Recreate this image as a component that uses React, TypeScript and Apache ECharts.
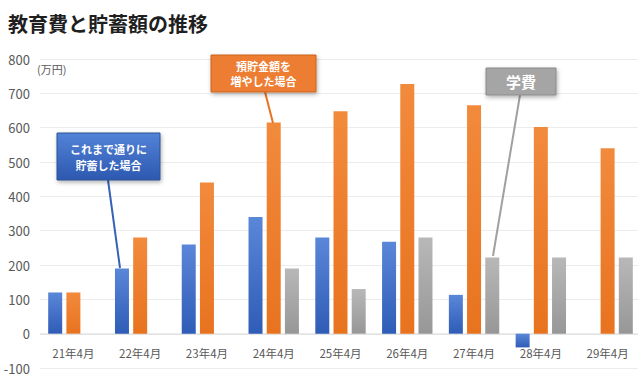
import React, { useEffect, useRef } from "react";
import * as echarts from "echarts";

const categories = ["21年4月", "22年4月", "23年4月", "24年4月", "25年4月", "26年4月", "27年4月", "28年4月", "29年4月"];
const savingsAsUsual = [120, 190, 260, 340, 280, 268, 113, -40, null];
const savingsIncreased = [120, 280, 440, 615, 648, 727, 665, 602, 540];
const tuition = [null, null, null, 190, 130, 280, 222, 222, 222];
const yMin = -100;
const yMax = 800;
const yStep = 100;

const FONT = "'Noto Sans CJK JP', 'Noto Sans', sans-serif";

function grad(top: string, bottom: string) {
  return new echarts.graphic.LinearGradient(0, 0, 0, 1, [
    { offset: 0, color: top },
    { offset: 1, color: bottom },
  ]);
}

function callout(
  x: number, y: number, w: number, h: number,
  fill: any, stroke: string, text: string, fontSize: number, lineHeight: number,
  line: [number, number, number, number], lineColor: string
) {
  return [
    {
      type: "line",
      z: 10,
      shape: { x1: line[0], y1: line[1], x2: line[2], y2: line[3] },
      style: { stroke: lineColor, lineWidth: 2 },
    },
    {
      type: "rect",
      z: 11,
      shape: { x, y, width: w, height: h },
      style: {
        fill,
        stroke,
        lineWidth: 1,
        shadowBlur: 4,
        shadowOffsetX: 1,
        shadowOffsetY: 2,
        shadowColor: "rgba(0,0,0,0.3)",
      },
    },
    {
      type: "text",
      z: 12,
      x: x + w / 2,
      y: y + h / 2,
      style: {
        text,
        fill: "#ffffff",
        font: `bold ${fontSize}px ${FONT}`,
        align: "center",
        verticalAlign: "middle",
        lineHeight,
      },
    },
  ];
}

export default function App() {
  const ref = useRef<HTMLDivElement>(null);
  useEffect(() => {
    if (!ref.current) return;
    const chart = echarts.init(ref.current, null, { renderer: "svg" });
    const gridTop = 59;
    const gridBottom = 11;
    const plotH = 379 - gridTop - gridBottom;
    const zeroOffset = -Math.round(((0 - yMin) / (yMax - yMin)) * plotH);
    chart.setOption({
      animation: false,
      backgroundColor: "#ffffff",
      textStyle: { fontFamily: FONT },
      grid: { left: 40, right: -3, top: gridTop, bottom: gridBottom, containLabel: false, outerBoundsMode: "none" },
      xAxis: {
        type: "category",
        data: categories,
        offset: zeroOffset,
        axisTick: { show: false },
        axisLine: { show: true, onZero: false, lineStyle: { color: "#e3e3e3" } },
        axisLabel: { color: "#595959", fontSize: 11.5, margin: 13, fontFamily: FONT },
        splitLine: { show: false },
      },
      yAxis: {
        type: "value",
        min: yMin,
        max: yMax,
        interval: yStep,
        axisLine: { show: false },
        axisTick: { show: false },
        axisLabel: { color: "#595959", fontSize: 13, margin: 10, fontFamily: FONT },
        splitLine: { lineStyle: { color: "#ececec", width: 1 } },
      },
      series: [
        {
          name: "これまで通りに貯蓄した場合",
          type: "bar",
          data: savingsAsUsual,
          barWidth: 14,
          barGap: "30%",
          itemStyle: { color: grad("#5a87d8", "#2f5cb6") },
        },
        {
          name: "預貯金額を増やした場合",
          type: "bar",
          data: savingsIncreased,
          barWidth: 14,
          barGap: "30%",
          itemStyle: { color: grad("#f28a3c", "#e8731f") },
        },
        {
          name: "学費",
          type: "bar",
          data: tuition,
          barWidth: 14,
          barGap: "30%",
          itemStyle: { color: grad("#b8b8b8", "#979797") },
        },
      ],
      graphic: [
        {
          type: "text",
          x: 8,
          y: 23,
          style: {
            text: "教育費と貯蓄額の推移",
            fill: "#1f1f1f",
            font: `bold 20px ${FONT}`,
            verticalAlign: "middle",
          },
        },
        {
          type: "text",
          x: 37,
          y: 69,
          style: {
            text: "(万円)",
            fill: "#595959",
            font: `11px ${FONT}`,
            verticalAlign: "middle",
          },
        },
        ...callout(57, 133, 103, 47, grad("#5283d8", "#2d58b0"), "#2f528f",
          "これまで通りに\n貯蓄した場合", 11, 16, [108, 180, 120, 268], "#3561b8"),
        ...callout(211, 55, 105, 37, "#ed7d31", "#c8651f",
          "預貯金額を\n増やした場合", 11, 15, [265, 92, 273, 123], "#e8731f"),
        ...callout(486, 68, 70, 27, "#a5a5a5", "#8a8a8a",
          "学費", 15, 18, [520, 95, 493, 256], "#a0a0a0"),
      ],
    });
    return () => chart.dispose();
  }, []);
  return (
    <div
      ref={ref}
      style={{ position: "fixed", left: 0, top: 0, width: 638, height: 379 }}
    />
  );
}
